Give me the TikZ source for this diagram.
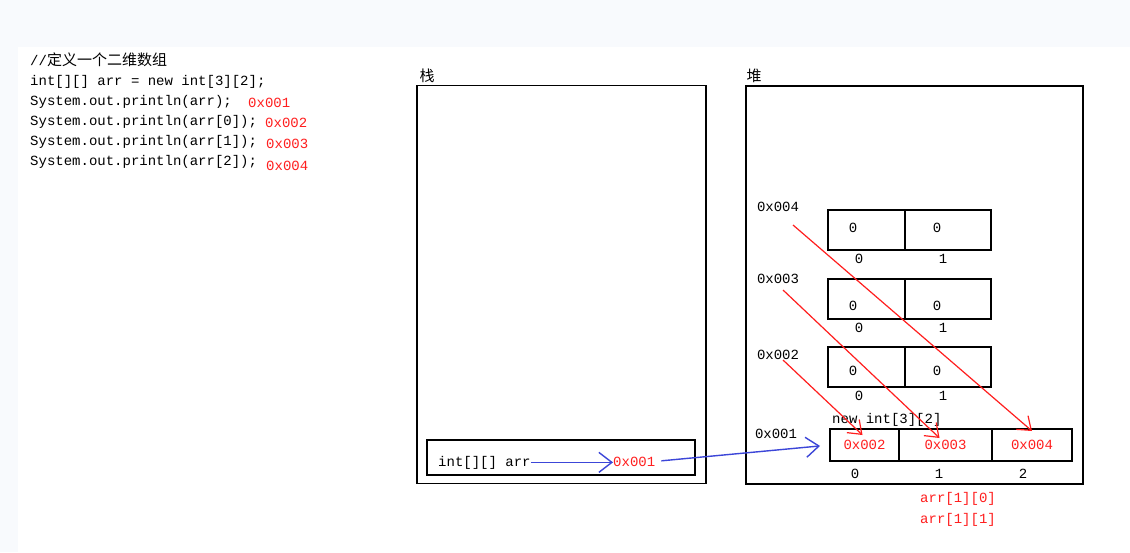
\documentclass[tikz,border=0pt]{standalone}
\usepackage{fontspec}
\setmainfont{Liberation Mono}
\newfontfamily\cjkfont{Noto Sans CJK SC}
\usepackage{xcolor}
\usepackage{tikz}
\usetikzlibrary{positioning,arrows.meta,calc}
\definecolor{memRed}{HTML}{FF1E1E}
\definecolor{memBlue}{HTML}{3C46D8}
\definecolor{pageBg}{HTML}{F8FAFD}

\begin{document}
\begin{tikzpicture}[
  x=1pt, y=-1pt,
  font=\fontsize{14}{18}\selectfont,
  code/.style={anchor=base west, inner sep=0pt},
  addr/.style={anchor=base west, inner sep=0pt, text=memRed},
  hanzi/.style={inner sep=0pt, font=\cjkfont\fontsize{15}{18}\selectfont},
  memframe/.style={draw=black, line width=1.8pt, inner sep=0pt},
  cell/.style={draw=black, line width=1.8pt, inner sep=0pt, outer sep=0pt, minimum height=40},
  idx/.style={inner sep=0pt},
  ptr/.style={-{Straight Barb[length=13pt,width=20pt]}, line width=1.4pt, draw=memBlue},
  refline/.style={-{Straight Barb[length=12pt,width=18pt]}, line width=1.2pt, draw=memRed},
]

% ── Page ──────────────────────────────────────────────────────────────────────
\fill[pageBg] (0,0) rectangle (1130,552);
\fill[white] (18,47) rectangle (1130,552);
\useasboundingbox (0,0) rectangle (1130,552);

% ── Source code ───────────────────────────────────────────────────────────────
\node[code] (cmt)  at (30,65)  {//{\cjkfont\fontsize{15}{18}\selectfont 定义一个二维数组}};
\node[code] (decl) at (30,85)  {int[][] arr = new int[3][2];};
\node[code] (pr0)  at (30,105) {System.out.println(arr);};
\node[code] (pr1)  at (30,125) {System.out.println(arr[0]);};
\node[code] (pr2)  at (30,145) {System.out.println(arr[1]);};
\node[code] (pr3)  at (30,165) {System.out.println(arr[2]);};
\node[addr] (out0) at (248,107) {0x001};
\node[addr] (out1) at (265,127) {0x002};
\node[addr] (out2) at (266,148) {0x003};
\node[addr] (out3) at (266,170) {0x004};

% ── Stack ─────────────────────────────────────────────────────────────────────
\node[hanzi] (stackLbl) at (427,76) {栈};
\node[memframe, minimum width=289, minimum height=398] (stackBox) at (561.5,284.5) {};
\node[memframe, minimum width=268, minimum height=35] (arrSlot) at (561,457.5) {};
\node[code] (arrName) at (438,466) {int[][] arr};
\node[addr] (stkAddr) at (613,466) {0x001};

% ── Heap ──────────────────────────────────────────────────────────────────────
\node[hanzi] (heapLbl) at (754,76) {堆};
\node[memframe, minimum width=337, minimum height=398] (heapBox) at (914.5,285) {};

% inner arrays int[2]
\foreach \r/\top/\vy/\ly in {4/210/228/207, 3/279/306/279, 2/347/371/355}{
  \node[cell, minimum width=77, anchor=north east] (rowL\r) at (905,\top) {};
  \node[cell, minimum width=86, anchor=north west] (rowR\r) at (905,\top) {};
  \node[idx] (valL\r) at (853,\vy) {0};
  \node[idx] (valR\r) at (937,\vy) {0};
  \node[idx] (idxL\r) at (859,{\top+49}) {0};
  \node[idx] (idxR\r) at (943,{\top+49}) {1};
  \node[idx] (hadr\r) at (778,\ly) {0x00\r};
}

% outer array int[3]
\node[code] (newExpr) at (832,423) {new int[3][2]};
\node[idx] (hadr1) at (776,434) {0x001};
\node[cell, minimum width=69, minimum height=32, anchor=north west, text=memRed] (slot0) at (830,429) {0x002};
\node[cell, minimum width=93, minimum height=32, anchor=west, text=memRed] (slot1) at (slot0.east) {0x003};
\node[cell, minimum width=80, minimum height=32, anchor=west, text=memRed] (slot2) at (slot1.east) {0x004};
\node[idx] (sidx0) at (855,474) {0};
\node[idx] (sidx1) at (939,474) {1};
\node[idx] (sidx2) at (1023,474) {2};
\node[addr] (elem10) at (920,502) {arr[1][0]};
\node[addr] (elem11) at (920,523) {arr[1][1]};

% ── References ────────────────────────────────────────────────────────────────
\draw[ptr] (arrName.east) -- (arrName.east -| stkAddr.west);
\draw[ptr, shorten <=6pt, shorten >=10pt] (stkAddr.east) -- (slot0.west);

\coordinate (from4) at (793,225);
\coordinate (from3) at (783,290);
\coordinate (from2) at (783,360);
\draw[refline] (from4) -- ($(slot2.north)+(0,2)$);
\draw[refline] (from3) -- ($(slot1.north)+(-6,9)$);
\draw[refline] (from2) -- ($(slot0.north)+(-2,6)$);

\end{tikzpicture}
\end{document}
